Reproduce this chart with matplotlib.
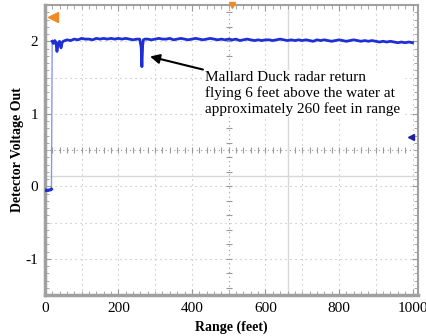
import numpy as np
import matplotlib
matplotlib.use('Agg')
import matplotlib.pyplot as plt
from matplotlib.ticker import MultipleLocator

plt.rcParams['font.family'] = ['Liberation Serif', 'DejaVu Serif']
plt.rcParams['axes.unicode_minus'] = False

# trace (range in feet, detector volts)
low_range = [0, 4, 8, 12, 16, 18]
low_volts = [-0.06, -0.05, -0.06, -0.05, -0.05, -0.04]

edge_range = [18, 20]
edge_volts = [-0.04, 2.0]

trace_range = [20, 23, 27, 30, 33, 36, 40, 44, 47, 50, 55,
               60, 70, 80, 90, 100, 110, 120, 130, 140, 150,
               160, 170, 180, 190, 200, 210, 220, 230, 240, 250,
               258, 262, 264, 266, 268, 272, 280, 290, 300,
               310, 320, 330, 340, 350, 360, 370, 380, 390, 400,
               410, 420, 430, 440, 450, 460, 470, 480, 490, 500,
               510, 520, 530, 540, 550, 560, 570, 580, 590, 600,
               610, 620, 630, 640, 650, 660, 670, 680, 690, 700,
               710, 720, 730, 740, 750, 760, 770, 780, 790, 800,
               810, 820, 830, 840, 850, 860, 870, 880, 890, 900,
               910, 920, 930, 940, 950, 960, 970, 980, 990, 1000]
trace_volts = [2.0, 1.97, 2.01, 1.99, 1.86, 1.97, 2.0, 1.91, 1.98, 2.0, 2.01,
               2.02, 2.01, 2.03, 2.02, 2.04, 2.03, 2.03, 2.02, 2.04, 2.03,
               2.04, 2.03, 2.04, 2.03, 2.04, 2.03, 2.04, 2.03, 2.02, 2.03,
               2.03, 1.92, 1.65, 1.94, 2.02, 2.03, 2.03, 2.02, 2.03,
               2.04, 2.03, 2.03, 2.04, 2.02, 2.03, 2.04, 2.03, 2.02, 2.03,
               2.04, 2.03, 2.02, 2.03, 2.04, 2.03, 2.02, 2.03, 2.02, 2.03,
               2.02, 2.03, 2.01, 2.02, 2.03, 2.02, 2.01, 2.02, 2.01, 2.02,
               2.02, 2.01, 2.02, 2.03, 2.02, 2.01, 2.02, 2.01, 2.02, 2.01,
               2.02, 2.01, 2.00, 2.02, 2.01, 2.02, 2.01, 2.00, 2.01, 2.02,
               2.01, 2.00, 2.01, 2.02, 2.01, 2.00, 2.01, 2.00, 2.01, 2.00,
               1.99, 2.00, 1.99, 2.00, 1.99, 1.98, 1.99, 1.98, 1.99, 1.98]

x_ticks = [0, 200, 400, 600, 800, 1000]
y_ticks = [-1, 0, 1, 2]

cursor_range = 660
cursor_volts = 0.14
note = ('Mallard Duck radar return\n'
        'flying 6 feet above the water at\n'
        'approximately 260 feet in range')
duck_point = (286, 1.79)
note_anchor = (430, 1.61)

fig = plt.figure(figsize=(4.27, 3.36), dpi=100)
ax = fig.add_axes([0.105, 0.122, 0.874, 0.863])
ax.set_xlim(0, 1015)
ax.set_ylim(-1.5, 2.5)

# scope graticule
dot = dict(color='#b8b8b8', lw=0.8, ls=(0, (1, 3.5)), zorder=1)
for gx in range(100, 1001, 100):
    if gx != 500:
        ax.axvline(gx, **dot)
for gy in np.arange(-1.0, 2.01, 0.5):
    if abs(gy - 0.5) > 1e-6:
        ax.axhline(gy, **dot)
ax.axvline(500, color='#9a9a9a', lw=0.8, ls=(0, (1, 3)), zorder=1)
ax.axhline(0.5, color='#9a9a9a', lw=0.8, ls=(0, (1, 3)), zorder=1)
hx = np.arange(20, 1000, 20)
ax.plot(hx, np.full(len(hx), 0.5), ls='none', marker='|',
        ms=4, color='#9a9a9a', mew=0.8, zorder=1)
vy = np.arange(-1.4, 2.45, 0.2)
ax.plot(np.full(len(vy), 500), vy, ls='none', marker='_',
        ms=4, color='#9a9a9a', mew=0.8, zorder=1)

# cursors
ax.axvline(cursor_range, color='#d8d8d8', lw=1.0, zorder=1)
ax.axhline(cursor_volts, color='#d8d8d8', lw=1.0, zorder=1)

# trace
ax.plot(low_range, low_volts, color='#1f2fd6', lw=2.2, zorder=3)
ax.plot(edge_range, edge_volts, color='#8c96ee', lw=1.0, zorder=2)
ax.plot(trace_range, trace_volts, color='#1f2fd6', lw=2.0, zorder=3)

# scope markers
ax.plot([22], [2.34], marker='<', ms=7, color='#f08a24', zorder=4, clip_on=False)
ax.plot([510], [2.5], marker='v', ms=5, color='#f08a24', zorder=4, clip_on=False)
ax.plot([995], [0.68], marker='<', ms=5, color='#2020a0', zorder=4)

ax.annotate('', xy=duck_point, xytext=note_anchor,
            arrowprops=dict(arrowstyle='-|>', color='black', lw=1.5,
                            mutation_scale=14, shrinkA=0, shrinkB=0))
ax.text(436, 1.59, note, fontsize=11, va='top', ha='left', linespacing=1.2,
        bbox=dict(facecolor='white', edgecolor='none', pad=1))

ax.set_xticks(x_ticks)
ax.set_yticks(y_ticks)
ax.xaxis.set_minor_locator(MultipleLocator(20))
ax.yaxis.set_minor_locator(MultipleLocator(0.1))
ax.tick_params(which='both', direction='in', color='#999999', top=True, right=True)
ax.tick_params(which='major', length=4, labelsize=11, pad=5)
ax.tick_params(which='minor', length=3)
for s in ax.spines.values():
    s.set_color('#a0a0a0')
    s.set_linewidth(1.5)
ax.spines['left'].set_linewidth(2.5)
ax.spines['bottom'].set_linewidth(2.5)

ax.set_xlabel('Range (feet)', fontsize=10, fontweight='bold', labelpad=4)
ax.set_ylabel('Detector Voltage Out', fontsize=10, fontweight='bold', labelpad=1)

fig.savefig('out.png', dpi=100)
